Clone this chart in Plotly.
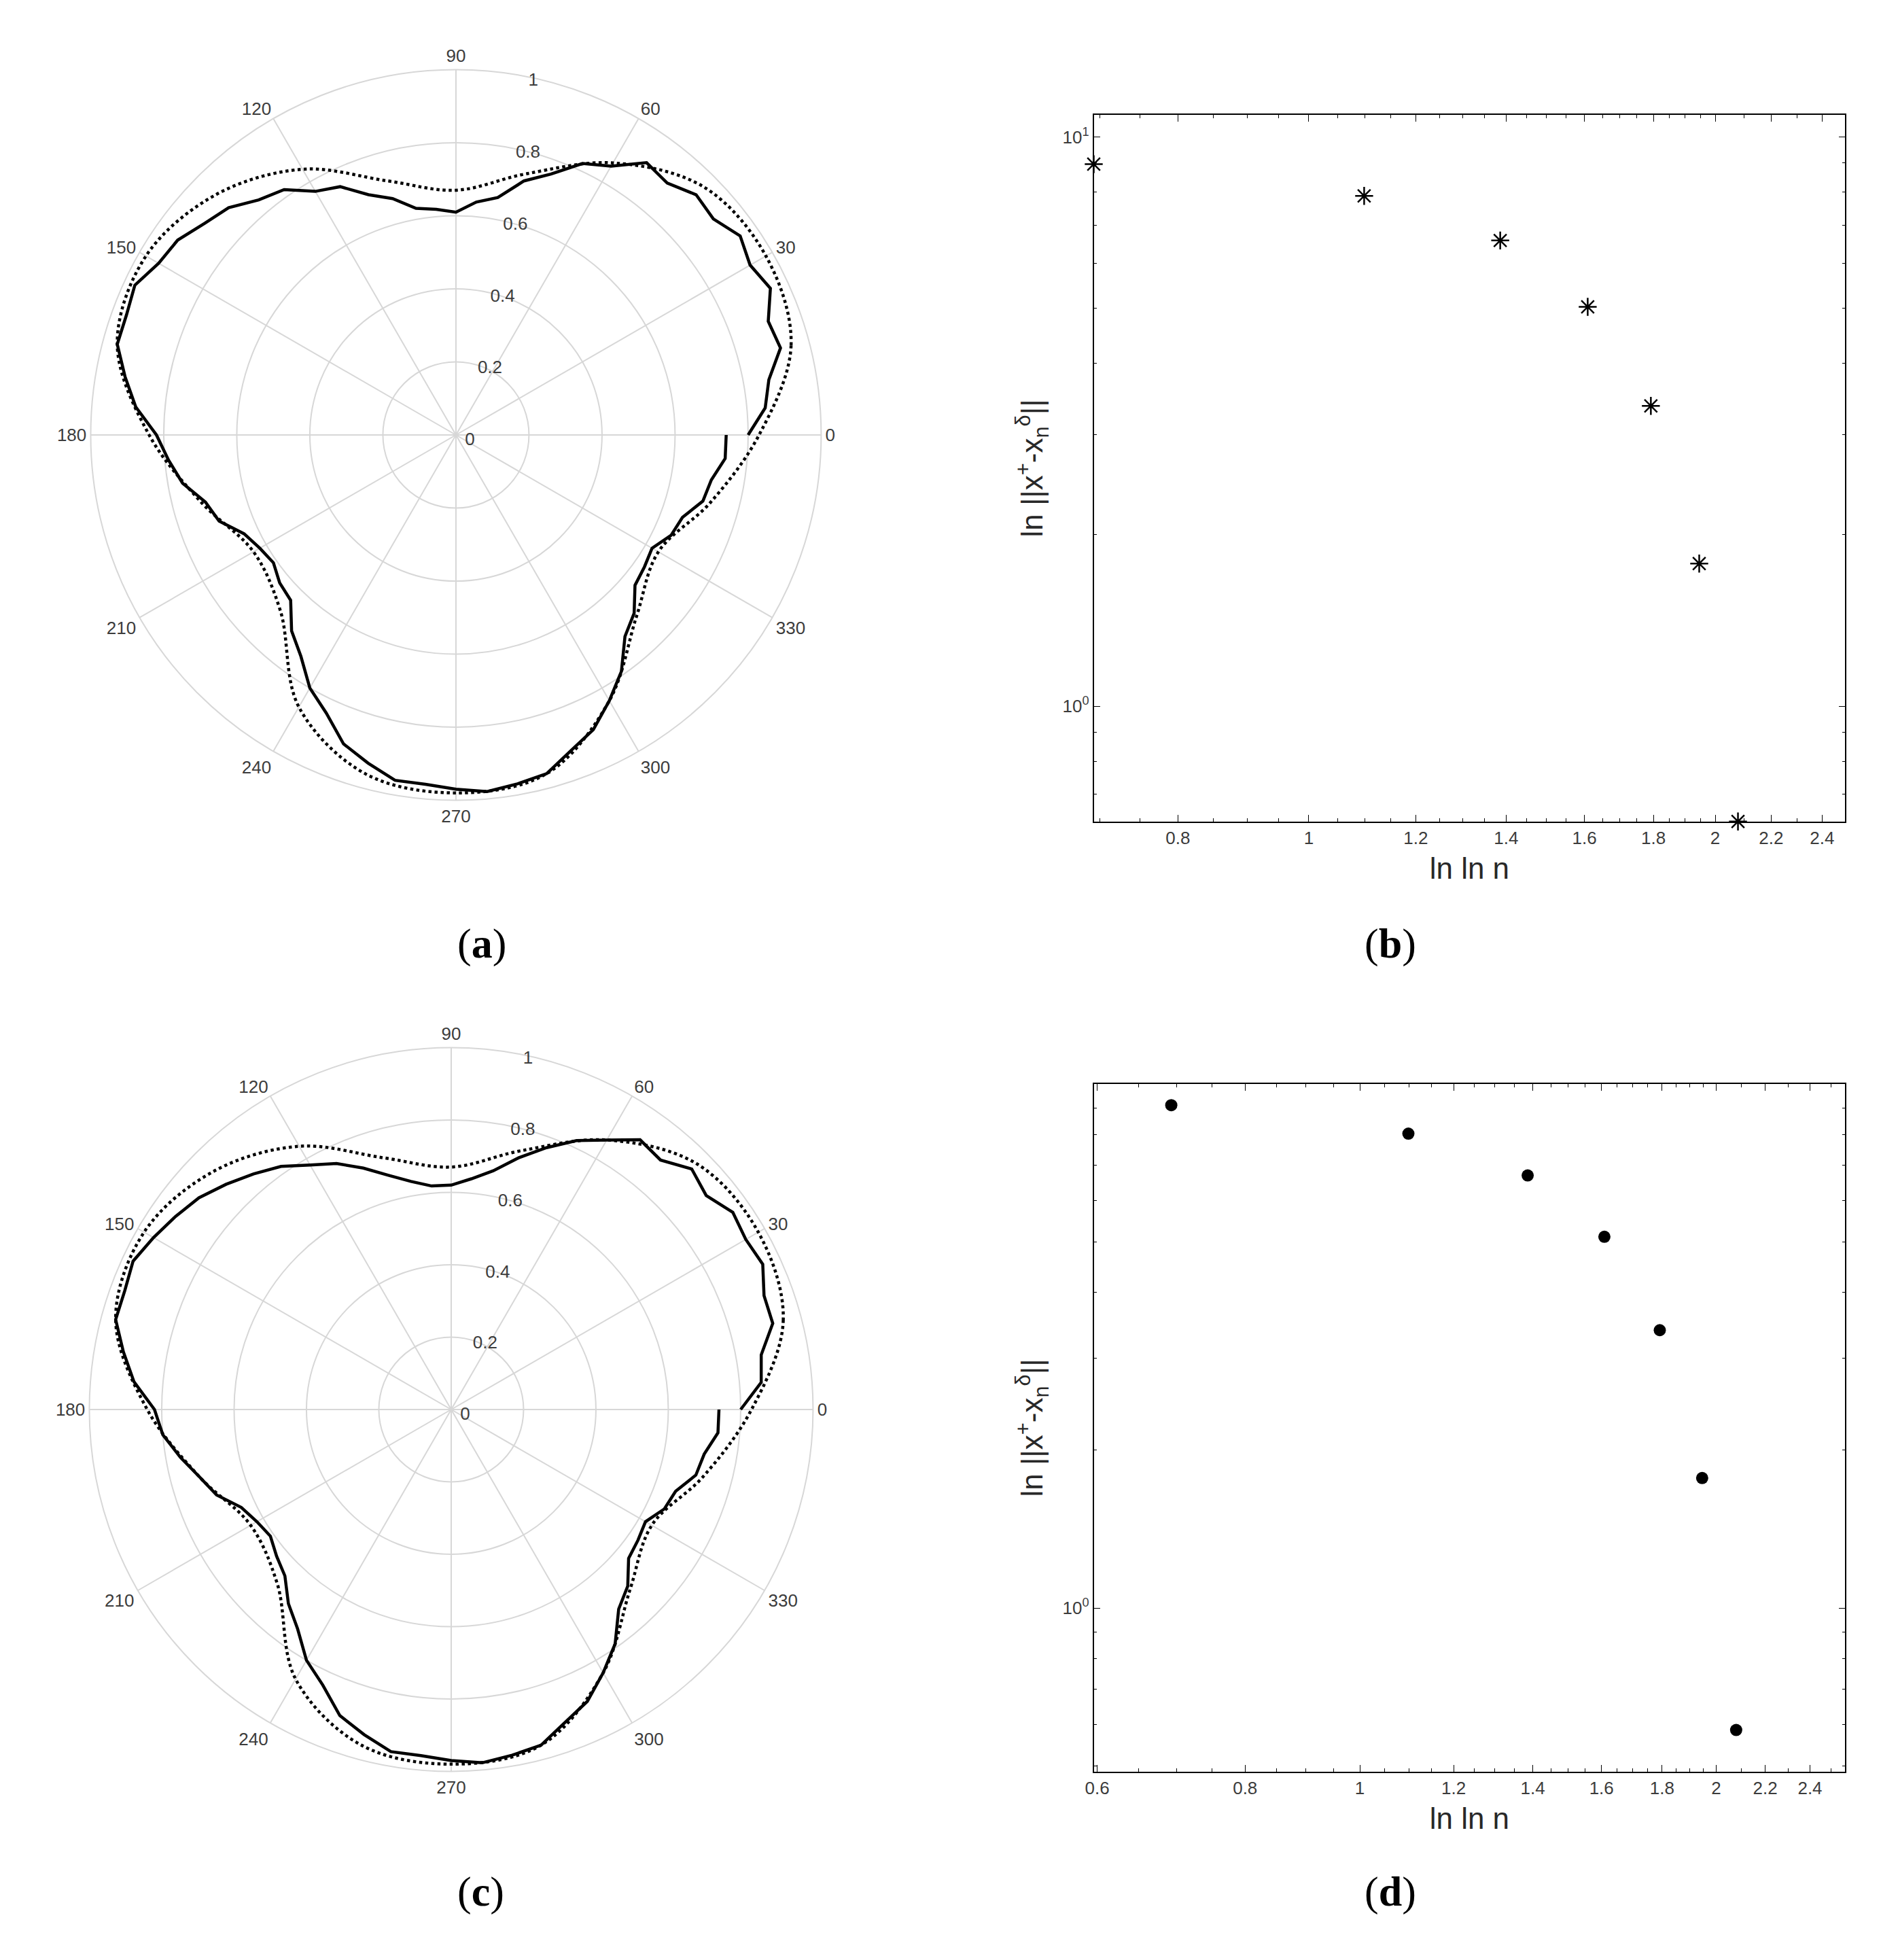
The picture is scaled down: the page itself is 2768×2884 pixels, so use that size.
import plotly.graph_objects as go
import math

# exact (dotted) boundary, every 15 degrees
theta_exact = [0, 15, 30, 45, 60, 75, 90, 105, 120, 135, 150, 165, 180,
               195, 210, 225, 240, 255, 270, 285, 300, 315, 330, 345, 360]
r_exact = [0.83, 0.95, 0.98, 0.96, 0.86, 0.74, 0.67, 0.72, 0.84, 0.93, 0.98, 0.96, 0.84,
           0.72, 0.64, 0.68, 0.86, 0.96, 0.98, 0.96, 0.84, 0.70, 0.64, 0.72, 0.83]

# reconstructed (solid) boundary, every 5 degrees
theta_rec = list(range(0, 365, 5))
r_rec_a = [0.80, 0.85, 0.87, 0.92, 0.91, 0.95, 0.93, 0.95, 0.92, 0.93, 0.90, 0.91, 0.85,
           0.82, 0.76, 0.72, 0.66, 0.64, 0.61, 0.62, 0.63, 0.67, 0.70, 0.75, 0.77, 0.82,
           0.84, 0.88, 0.90, 0.93, 0.94, 0.97, 0.96, 0.96, 0.92, 0.88, 0.82, 0.79, 0.76,
           0.71, 0.69, 0.64, 0.62, 0.61, 0.63, 0.64, 0.70, 0.74, 0.80, 0.84, 0.90, 0.93,
           0.96, 0.96, 0.97, 0.98, 0.97, 0.96, 0.92, 0.89, 0.84, 0.79, 0.72, 0.69, 0.64,
           0.63, 0.62, 0.65, 0.66, 0.70, 0.71, 0.74, 0.74]
r_rec_c = [0.80, 0.86, 0.87, 0.92, 0.92, 0.95, 0.94, 0.95, 0.92, 0.94, 0.90, 0.91, 0.86,
           0.82, 0.77, 0.72, 0.67, 0.64, 0.62, 0.62, 0.64, 0.67, 0.71, 0.75, 0.78, 0.82,
           0.85, 0.88, 0.91, 0.93, 0.95, 0.97, 0.96, 0.96, 0.92, 0.88, 0.82, 0.80, 0.76,
           0.72, 0.69, 0.64, 0.62, 0.61, 0.63, 0.65, 0.70, 0.74, 0.80, 0.84, 0.90, 0.93,
           0.96, 0.96, 0.97, 0.98, 0.97, 0.96, 0.92, 0.89, 0.84, 0.79, 0.72, 0.69, 0.64,
           0.63, 0.62, 0.65, 0.66, 0.70, 0.71, 0.74, 0.74]

angle_ticks = [0, 30, 60, 90, 120, 150, 180, 210, 240, 270, 300, 330]
radial_ticks = [0, 0.2, 0.4, 0.6, 0.8, 1]

# convergence data
lnln_n = [0.693, 1.099, 1.386, 1.609, 1.792, 1.946, 2.079]
err_b = [8.96, 7.88, 6.58, 5.03, 3.37, 1.78, 0.627]
err_d = [9.11, 8.04, 6.69, 5.11, 3.39, 1.77, 0.585]

x_ticks = [0.6, 0.8, 1, 1.2, 1.4, 1.6, 1.8, 2, 2.2, 2.4]
x_minor = [0.65, 0.7, 0.75, 0.85, 0.9, 0.95, 1.05, 1.1, 1.15, 1.25, 1.3, 1.35, 1.45, 1.5,
           1.55, 1.65, 1.7, 1.75, 1.85, 1.9, 1.95, 2.1, 2.3, 2.5]
y_minor = [0.5, 0.6, 0.7, 0.8, 0.9, 2, 3, 4, 5, 6, 7, 8, 9]

W, H = 2768, 2884
grey = 'rgb(215,215,215)'
tickfont = dict(family='Liberation Sans', size=26, color='rgb(60,60,60)')

fig = go.Figure()

for name, rr in [('polar', r_rec_a), ('polar2', r_rec_c)]:
    fig.add_trace(go.Scatterpolar(r=r_exact, theta=theta_exact, mode='lines', subplot=name,
                                  line=dict(color='black', width=4.5, dash='dot', shape='spline'),
                                  showlegend=False))
    fig.add_trace(go.Scatterpolar(r=rr, theta=theta_rec, mode='lines', subplot=name,
                                  line=dict(color='black', width=4.5), showlegend=False))

fig.add_trace(go.Scatter(x=lnln_n, y=err_b, mode='markers', xaxis='x', yaxis='y',
                         marker=dict(symbol='asterisk-open', size=22, color='black',
                                     line=dict(width=2.5, color='black')),
                         cliponaxis=False, showlegend=False))
fig.add_trace(go.Scatter(x=lnln_n, y=err_d, mode='markers', xaxis='x2', yaxis='y2',
                         marker=dict(symbol='circle', size=18, color='black'),
                         cliponaxis=False, showlegend=False))


def polar_layout(cx, cy, rad):
    return dict(
        domain=dict(x=[(cx - rad) / W, (cx + rad) / W], y=[1 - (cy + rad) / H, 1 - (cy - rad) / H]),
        bgcolor='white',
        radialaxis=dict(range=[0, 1], tickmode='array', tickvals=radial_ticks,
                        ticktext=[f'{v:g}' for v in radial_ticks], angle=80, tickangle=80,
                        showline=False, gridcolor=grey, gridwidth=1.5, ticks='', tickfont=tickfont),
        angularaxis=dict(tickmode='array', tickvals=angle_ticks, ticktext=[str(a) for a in angle_ticks],
                         rotation=0, direction='counterclockwise', gridcolor=grey,
                         gridwidth=1.5, linecolor=grey, linewidth=2, ticks='', tickfont=tickfont),
    )


def cart_axis(dom, rng, title, **kw):
    d = dict(domain=dom, type='log', range=rng, showgrid=False, zeroline=False,
             showline=True, mirror='ticks', linecolor='black', linewidth=1.5,
             ticks='inside', ticklen=10, tickcolor='black', tickfont=tickfont,
             title=dict(text=title, font=dict(family='Liberation Sans', size=44, color='rgb(40,40,40)')))
    d.update(kw)
    return d


lg = math.log10
ytitle = 'ln ||x<sup>+</sup>-x<sub>n</sub><sup>δ</sup>||'

fig.update_layout(
    width=W, height=H, paper_bgcolor='white', plot_bgcolor='white',
    margin=dict(l=0, r=0, t=0, b=0),
    polar=polar_layout(653, 632, 540),
    polar2=polar_layout(646, 2066, 535),
    xaxis=cart_axis([1596 / W, 2707 / W], [lg(0.693), lg(2.496)], 'ln ln n',
                    anchor='y', tickmode='array', tickvals=x_ticks, ticktext=[str(v) for v in x_ticks],
                    minor=dict(tickvals=x_minor, ticks='inside', ticklen=5, tickcolor='black')),
    yaxis=cart_axis([1 - 1201 / H, 1 - 161 / H], [-0.203, 1.039], ytitle,
                    anchor='x', tickmode='array', tickvals=[1, 10],
                    ticktext=['10<sup>0</sup>', '10<sup>1</sup>'],
                    minor=dict(tickvals=y_minor, ticks='inside', ticklen=5, tickcolor='black')),
    xaxis2=cart_axis([1596 / W, 2707 / W], [lg(0.596), lg(2.57)], 'ln ln n',
                     anchor='y2', tickmode='array', tickvals=x_ticks, ticktext=[str(v) for v in x_ticks],
                     minor=dict(tickvals=x_minor, ticks='inside', ticklen=5, tickcolor='black')),
    yaxis2=cart_axis([1 - 2599 / H, 1 - 1587 / H], [-0.3125, 1.0], ytitle,
                     anchor='x2', tickmode='array', tickvals=[1], ticktext=['10<sup>0</sup>'],
                     minor=dict(tickvals=y_minor, ticks='inside', ticklen=5, tickcolor='black')),
)

labels = [('(<b>a</b>)', 653, 1380), ('(<b>b</b>)', 2075, 1380),
          ('(<b>c</b>)', 653, 2812), ('(<b>d</b>)', 2075, 2812)]
for txt, x, y in labels:
    fig.add_annotation(text=txt, x=x / W, y=1 - y / H, xref='paper', yref='paper',
                       showarrow=False, font=dict(family='Liberation Serif', size=62, color='black'))

fig.write_html("out.html")
